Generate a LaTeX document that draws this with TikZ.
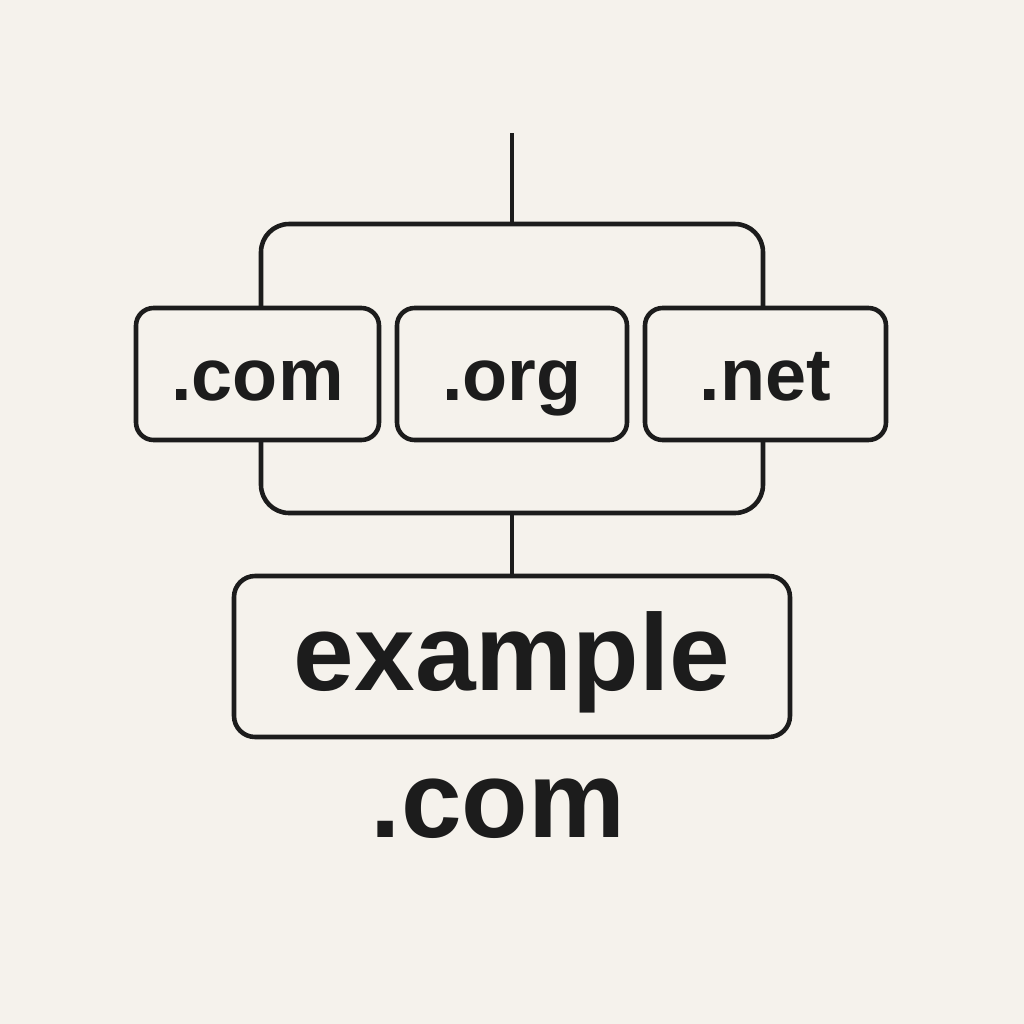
\documentclass[tikz,border=0pt]{standalone}
\usepackage{fontspec}
\setmainfont{Liberation Sans}
\usetikzlibrary{positioning}
\definecolor{paper}{RGB}{245, 242, 236}
\definecolor{ink}{RGB}{28, 28, 28}

\begin{document}
\begin{tikzpicture}[
    line width=1.3pt, draw=ink,
    tld/.style={draw=ink, fill=paper, rounded corners=5pt, inner sep=0pt,
        minimum height=1.32cm, text height=0.52cm, text depth=0pt,
        font=\fontsize{21}{24}\selectfont\bfseries, text=ink},
    sitebox/.style={draw=ink, fill=paper, rounded corners=6pt, inner sep=0pt,
        minimum width=5.56cm, minimum height=1.61cm, text height=0.68cm, text depth=0pt,
        font=\fontsize{31}{36}\selectfont\bfseries, text=ink},
    groupbox/.style={draw=ink, rounded corners=8pt, inner sep=0pt,
        minimum width=5.02cm, minimum height=2.89cm}
]
    \fill[paper] (0,0) rectangle (10.24,-10.24);
    \useasboundingbox (0,0) rectangle (10.24,-10.24);

    \coordinate (root) at (5.12,-1.33);
    \node[groupbox] (group) at (5.12,-3.685) {};

    \node[tld, minimum width=2.43cm] (com) at (2.575,-3.74) {.com};
    \node[tld, minimum width=2.30cm] (org) at (5.12,-3.74) {.org};
    \node[tld, minimum width=2.41cm] (net) at (7.655,-3.74) {.net};

    \node[sitebox] (example) at (5.12,-6.565) {example};
    \node[anchor=base, font=\fontsize{31}{36}\selectfont\bfseries, text=ink, inner sep=0pt]
        (suffix) at (4.98,-8.37) {.com};

    \draw[ink] (root) -- (group.north);
    \draw[ink] (group.south) -- (example.north);
\end{tikzpicture}
\end{document}
